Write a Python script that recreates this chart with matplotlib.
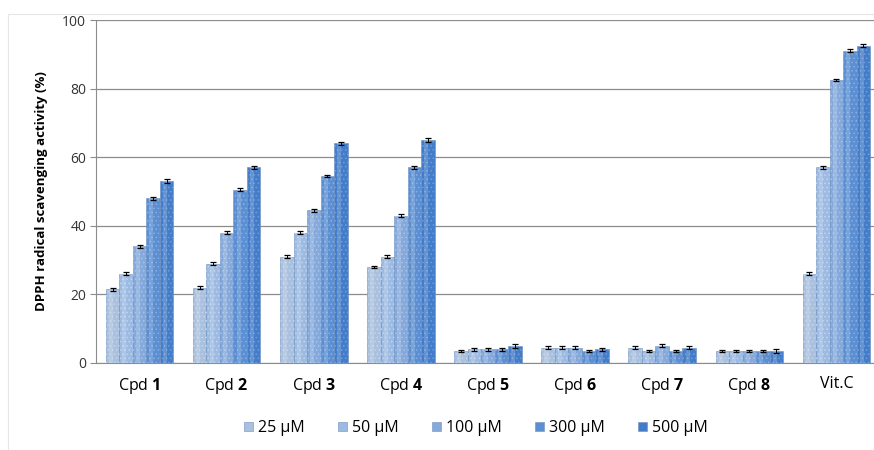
import numpy as np
import matplotlib
matplotlib.use("Agg")
import matplotlib.pyplot as plt
from matplotlib.patches import Rectangle

plt.rcParams['font.family'] = ['Open Sans', 'DejaVu Sans']
plt.rcParams['mathtext.fontset'] = 'custom'
plt.rcParams['mathtext.rm'] = 'Open Sans'
plt.rcParams['mathtext.bf'] = 'Open Sans:bold'
plt.rcParams['hatch.linewidth'] = 0.6

# data
compounds = ["Cpd $\\mathbf{1}$", "Cpd $\\mathbf{2}$", "Cpd $\\mathbf{3}$", "Cpd $\\mathbf{4}$",
             "Cpd $\\mathbf{5}$", "Cpd $\\mathbf{6}$", "Cpd $\\mathbf{7}$", "Cpd $\\mathbf{8}$", "Vit.C"]
conc_labels = ["25 µM", "50 µM", "100 µM", "300 µM", "500 µM"]
act_25 = [21.5, 22.0, 31.0, 28.0, 3.5, 4.5, 4.5, 3.5, 26.0]
act_50 = [26.0, 29.0, 38.0, 31.0, 4.0, 4.5, 3.5, 3.5, 57.0]
act_100 = [34.0, 38.0, 44.5, 43.0, 4.0, 4.5, 5.0, 3.5, 82.5]
act_300 = [48.0, 50.5, 54.5, 57.0, 4.0, 3.5, 3.5, 3.5, 91.0]
act_500 = [53.0, 57.0, 64.0, 65.0, 5.0, 4.0, 4.5, 3.5, 92.5]
err = [0.4, 0.4, 0.4, 0.4, 0.5]

series = [act_25, act_50, act_100, act_300, act_500]
colors = ['#a9c0de', '#9dbbe2', '#84a9da', '#5b8fd2', '#437cc8']
dot_colors = ['#c4d5ea', '#c0d4ee', '#a9c3e7', '#89aee2', '#729dda']

fig = plt.figure(figsize=(8.74, 4.50), dpi=100)
fig.patches.append(Rectangle((8 / 874, -0.1), 1.2, (450 - 14) / 450 + 0.1,
                             transform=fig.transFigure, fill=False,
                             edgecolor='#e6e6e6', linewidth=0.8))
ax = fig.add_axes([96 / 874, 87 / 450, 784 / 874, 343 / 450])

x = np.arange(len(compounds))
w = 0.155
for j, vals in enumerate(series):
    pos = x + (j - 2) * w
    ax.bar(pos, vals, w, color=colors[j], edgecolor='#6d8fbf', linewidth=0.4,
           zorder=3, label=conc_labels[j])
    ax.bar(pos, vals, w, facecolor='none', edgecolor=dot_colors[j], hatch='....',
           linewidth=0, zorder=4)
    # soft highlight to suggest the cylinder look
    ax.bar(pos - w * 0.12, vals, w * 0.3, color='white', alpha=0.18, linewidth=0, zorder=5)
    ax.errorbar(pos, vals, yerr=err[j], fmt='none', ecolor='black', elinewidth=0.7,
                capsize=2.5, capthick=0.9, zorder=6)

ax.set_xlim(-0.5, len(compounds) - 0.5)
ax.set_ylim(0, 100)
ax.set_yticks(np.arange(0, 101, 20))
ax.yaxis.grid(True, color='#8c8c8c', linewidth=0.9, zorder=0)
ax.set_axisbelow(True)
ax.set_xticks(x)
ax.set_xticklabels(compounds, fontsize=11.5)
ax.tick_params(axis='x', length=0, pad=9)
ax.tick_params(axis='y', labelsize=10, colors='#333333', length=4, color='#8c8c8c', pad=3)
for s in ['top', 'right']:
    ax.spines[s].set_visible(False)
ax.spines['left'].set_color('#8c8c8c')
ax.spines['bottom'].set_color('#8c8c8c')
ax.set_ylabel("DPPH radical scavenging activity (%)", fontsize=9.5, fontweight='bold',
              labelpad=10)

ax.legend(loc='center', bbox_to_anchor=(476 / 874, 1 - 428 / 450), bbox_transform=fig.transFigure,
          ncol=5, frameon=False, fontsize=11.5, handlelength=0.55, handleheight=0.55,
          handletextpad=0.3, columnspacing=2.1)

fig.savefig("out.png", dpi=100)
